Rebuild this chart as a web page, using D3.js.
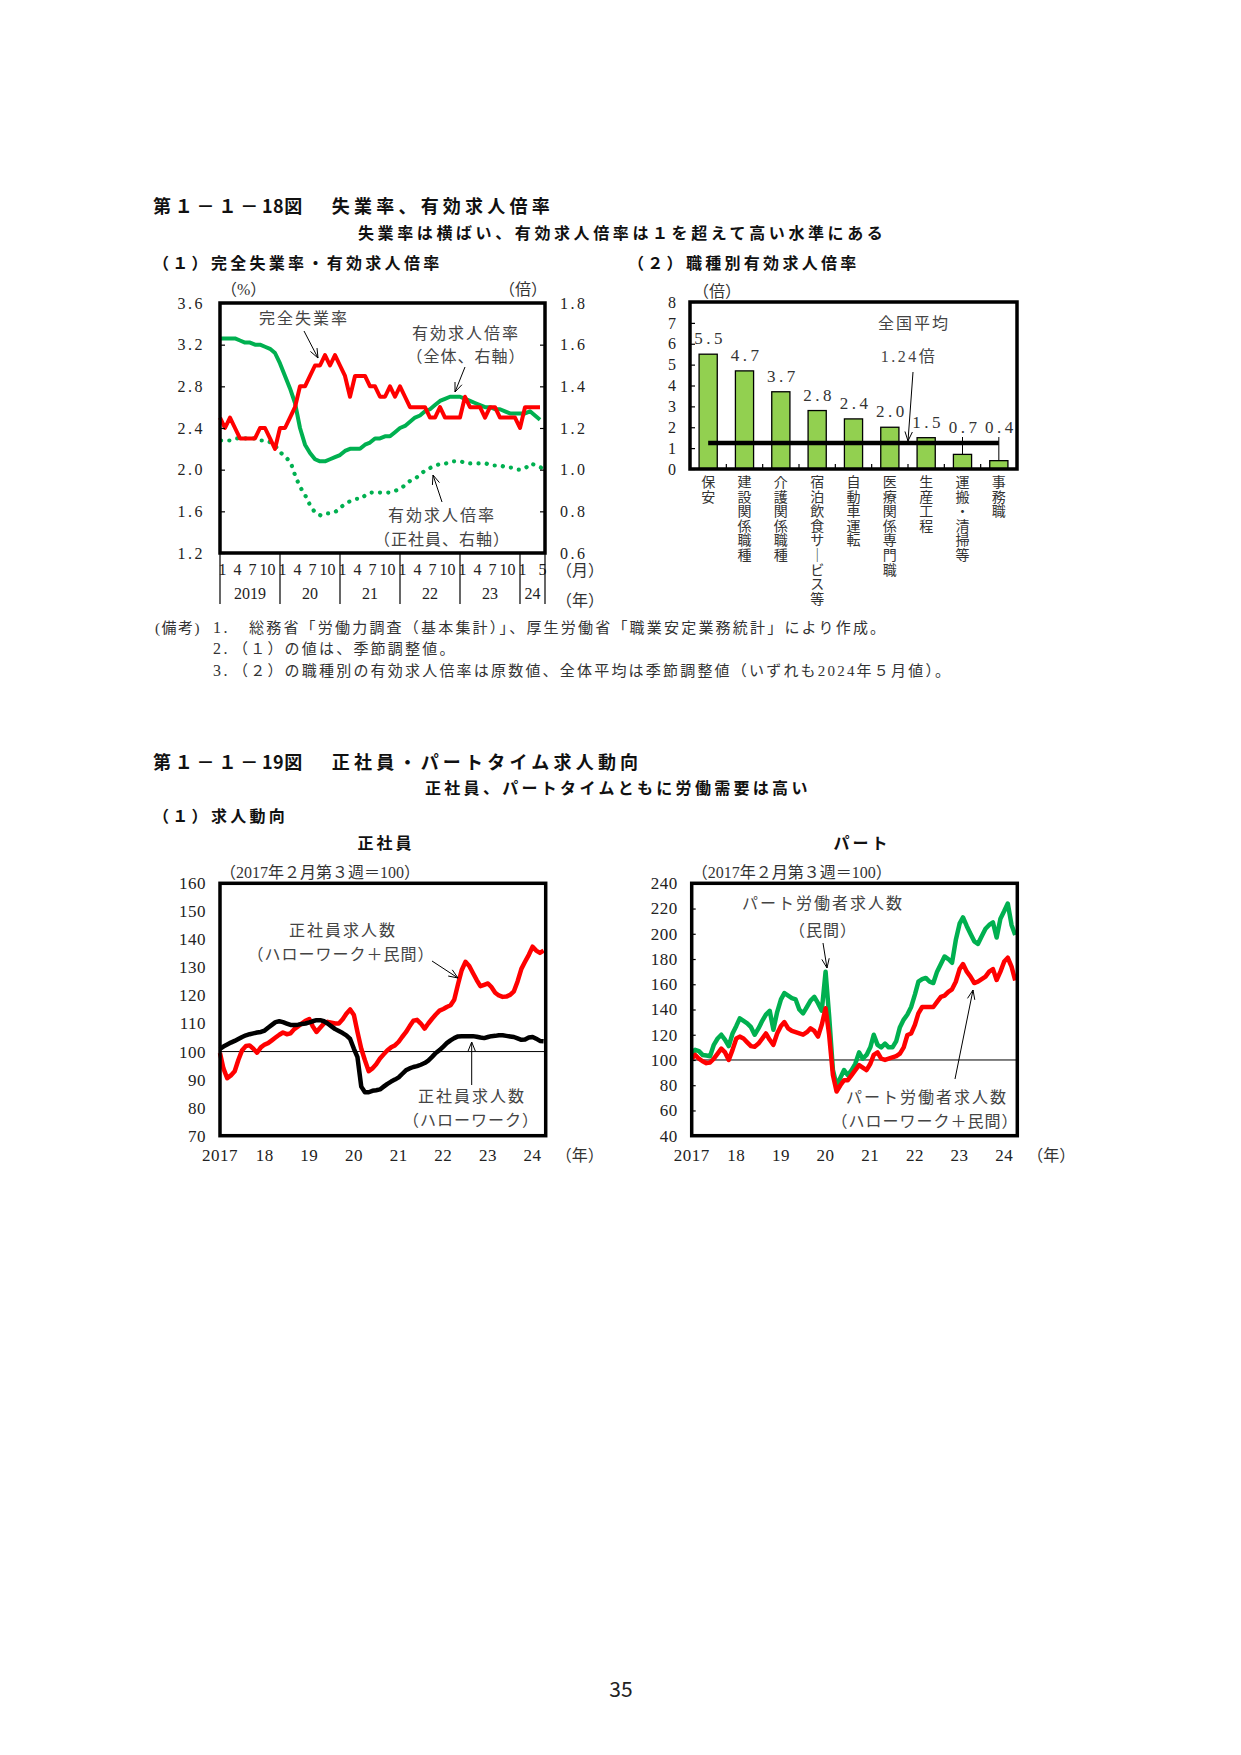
<!DOCTYPE html>
<html>
<head>
<meta charset="utf-8">
<script src="https://cdn.jsdelivr.net/npm/d3@7"></script>
<style>
  body { margin: 0; background: #fff; }
  svg text { font-family: "Liberation Serif", "Noto Sans CJK JP", serif; }
</style>
</head>
<body>
<script>
// (1) 完全失業率・有効求人倍率 : 2019年1月 - 2024年5月
const unemployment = [
  2.5,2.4,2.5,2.4,2.3,2.3,2.3,2.3,2.4,2.4,2.3,2.2,
  2.4,2.4,2.5,2.6,2.8,2.8,2.9,3.0,3.0,3.1,3.0,3.1,
  3.0,2.9,2.7,2.9,2.9,2.9,2.8,2.8,2.7,2.7,2.8,2.7,
  2.8,2.7,2.6,2.6,2.6,2.6,2.5,2.5,2.6,2.5,2.5,2.5,
  2.5,2.7,2.6,2.6,2.6,2.5,2.6,2.6,2.5,2.5,2.5,2.5,
  2.4,2.6,2.6,2.6,2.6];
const ratioAll = [
  1.63,1.63,1.63,1.63,1.62,1.61,1.61,1.60,1.60,1.59,1.58,1.56,
  1.51,1.45,1.39,1.32,1.20,1.12,1.08,1.05,1.04,1.04,1.05,1.06,
  1.07,1.09,1.10,1.10,1.10,1.12,1.13,1.15,1.15,1.16,1.16,1.18,
  1.20,1.21,1.23,1.25,1.26,1.28,1.29,1.31,1.33,1.34,1.35,1.35,
  1.35,1.34,1.33,1.32,1.31,1.30,1.30,1.29,1.29,1.28,1.27,1.27,
  1.27,1.27,1.28,1.26,1.24];
const ratioRegular = [
  1.14,1.14,1.14,1.15,1.15,1.15,1.15,1.15,1.14,1.14,1.13,1.11,
  1.08,1.06,1.03,0.96,0.91,0.87,0.82,0.79,0.78,0.79,0.79,0.80,
  0.82,0.84,0.85,0.86,0.86,0.88,0.89,0.89,0.89,0.89,0.89,0.90,
  0.91,0.93,0.95,0.96,0.98,1.00,1.01,1.02,1.03,1.03,1.04,1.04,
  1.04,1.03,1.03,1.03,1.03,1.03,1.02,1.02,1.02,1.01,1.01,1.00,
  1.00,1.01,1.03,1.02,1.01];
const leftTicks = [1.2,1.6,2.0,2.4,2.8,3.2,3.6];
const rightTicks = [0.6,0.8,1.0,1.2,1.4,1.6,1.8];
const yearLabels1 = ["2019","20","21","22","23","24"];
const monthTicks = [[1,4,7,10],[1,4,7,10],[1,4,7,10],[1,4,7,10],[1,4,7,10],[1,5]];

// (2) 職種別有効求人倍率（2024年5月）
const jobCategories = ["保安","建設関係職種","介護関係職種","宿泊飲食サービス等","自動車運転",
  "医療関係専門職","生産工程","運搬・清掃等","事務職"];
const jobRatios = [5.5,4.7,3.7,2.8,2.4,2.0,1.5,0.7,0.4];
const nationalAverage = 1.24;

// 第1-1-19図 : 2017年2月 - 2024年5月（月次で読取り）
const regularTotal = [
  99.5,94,90.5,91.5,93,97,100.5,102,102.2,101,99.6,101.5,
  102.5,103,104,105,106,106.8,106.2,106.5,108,109,110,111,
  111.6,109,107,108.5,110,110.6,110.3,110,110,111.5,113.5,115,
  113,107,101,96.9,93,94,95.5,97.5,99,100.5,101.5,102.2,
  103.5,105.2,106.9,109,111,111.3,110,108.2,110,111.7,113.2,114.6,
  115.2,115.9,116.5,118.5,124,129,132,130.5,128,125.5,123.3,123.8,
  124.3,123,121,120,119.5,119.6,120.2,121.5,125,129.5,132,134.5,
  137.4,136,135.2,136];
const regularHW = [
  101,101.8,102.5,103.2,103.8,104.5,105.2,105.8,106.2,106.5,106.8,107,
  107.5,108.5,109.5,110.5,110.8,110.5,110,109.5,109.5,109.6,109.8,110,
  110.4,110.8,111.2,111.2,110.8,110,109,108,107.3,106.6,105.8,104.5,
  101,98,87.5,85.5,85.5,86,86.2,86.5,87.5,88.5,89.3,90,
  90.8,92,93.3,94,94.5,94.8,95.3,95.9,96.8,98.1,99.5,100.5,
  101.8,103,104,104.8,105.4,105.5,105.5,105.5,105.5,105.3,105,104.8,
  105.2,105.5,105.6,105.8,105.8,105.6,105.4,105.2,104.7,104.2,104.3,105,
  105.2,104.6,103.8,103.7];
const partPrivate = [
  105,108,107,104,103.5,103,112,117,120,116,111,121,
  127,133,131,129,126,120,125,131,136,139,124,138,
  148,153,151,149,148,140,137,142,147,150,145,139,
  170,135,92,80,86,92,88,92,97,106,101,104,
  110,120,112,110,113,110,110,115,126,132,136,142,
  152,162,164,165,162,161,170,176,182,180,177,195,
  208,213,206,200,194,192,198,204,207,209,197,212,
  218,224,207,199];
const partTotal = [
  101,104,101,99,97.5,98,101,105,109,106,100,108,
  117,118.5,117,114,111,110.5,113,117,121,116,112,121,
  127,130,125,123,122,121,120,122,125,123,118.5,128,
  141,120,88,75,80,84,84,88,92,96,94,92,
  97,104,106,101,100,101,102,103,105,110,119.8,121,
  128,137,142,142,142,142,146,150,151,154,156,162,
  172,176,170,166,161,162,164,166,170,172,163.4,170,
  178,181,174,163];
const yearLabels2 = ["2017","18","19","20","21","22","23","24"];
const regularTicks = d3.range(70, 161, 10);
const partTicks = d3.range(40, 241, 20);

const RED = "#ff0000", GREEN = "#00b050", BAR = "#92d050";

const svg = d3.select("body").append("svg")
  .attr("width", 1241).attr("height", 1755);
svg.append("rect").attr("width", 1241).attr("height", 1755).attr("fill", "#fff");

function txt(g, x, y, s, opt) {
  opt = opt || {};
  return g.append("text")
    .attr("x", x).attr("y", y)
    .attr("text-anchor", opt.anchor || "start")
    .attr("font-size", opt.size || 16)
    .attr("letter-spacing", opt.ls || 0)
    .attr("font-weight", opt.weight || "normal")
    .style("font-family", opt.gothic ? '"Noto Sans CJK JP", sans-serif' : null)
    .attr("fill", opt.fill || "#222")
    .text(s);
}

// figure title: "第１－１－NN図　…" with the two digits kept tight
function figTitle(g, y, num, rest) {
  const t = g.append("text").attr("x", 153).attr("y", y)
    .attr("font-size", 18).attr("font-weight", "bold").attr("fill", "#111")
    .style("font-family", '"Noto Sans CJK JP", sans-serif');
  t.append("tspan").attr("letter-spacing", 3.8).text("第１－１－");
  t.append("tspan").attr("letter-spacing", 0.5).text(num);
  t.append("tspan").attr("letter-spacing", 3.8).text("図　");
  t.append("tspan").attr("dx", 4).attr("letter-spacing", 4.2).text(rest);
}

function arrow(g, x0, y0, x1, y1) {
  const a = Math.atan2(y1 - y0, x1 - x0), L = 10, w = 0.38;
  const p = d3.path();
  p.moveTo(x0, y0); p.lineTo(x1, y1);
  p.moveTo(x1 - L * Math.cos(a - w), y1 - L * Math.sin(a - w));
  p.lineTo(x1, y1);
  p.lineTo(x1 - L * Math.cos(a + w), y1 - L * Math.sin(a + w));
  g.append("path").attr("d", p.toString()).attr("fill", "none")
    .attr("stroke", "#000").attr("stroke-width", 1);
}

function styleAxis(g, size, ls) {
  g.select(".domain").remove();
  g.selectAll(".tick line").attr("stroke", "#000").attr("stroke-width", 1.2);
  g.selectAll(".tick text")
    .attr("font-size", size).attr("letter-spacing", ls || 0)
    .attr("fill", "#222")
    .style("font-family", '"Liberation Serif", serif');
  g.attr("font-family", null).attr("font-size", null);
}

// ---------- titles ----------
const head = svg.append("g");
figTitle(head, 213, "18", "失業率、有効求人倍率");
txt(head, 358, 239, "失業率は横ばい、有効求人倍率は１を超えて高い水準にある", {size: 16, ls: 3.6, weight: "bold", gothic: true, fill: "#111"});
txt(head, 153, 269, "（１）完全失業率・有効求人倍率", {size: 16, ls: 3.3, weight: "bold", gothic: true, fill: "#111"});
txt(head, 628, 269, "（２）職種別有効求人倍率", {size: 16, ls: 3.3, weight: "bold", gothic: true, fill: "#111"});

// ---------- (1) line chart ----------
const c1 = svg.append("g");
const x1 = d3.scaleLinear().domain([0, unemployment.length]).range([220, 545]);
const yL = d3.scaleLinear().domain([1.2, 3.6]).range([553, 303]);
const yR = d3.scaleLinear().domain([0.6, 1.8]).range([553, 303]);

c1.append("path").datum(ratioRegular)
  .attr("d", d3.line().x((d, i) => x1(i) + 1).y(d => yR(d)))
  .attr("fill", "none").attr("stroke", GREEN).attr("stroke-width", 4.2)
  .attr("stroke-linecap", "round").attr("stroke-dasharray", "0.1 8.2");
c1.append("path").datum(ratioAll)
  .attr("d", d3.line().x((d, i) => x1(i)).y(d => yR(d)))
  .attr("fill", "none").attr("stroke", GREEN).attr("stroke-width", 4)
  .attr("stroke-linejoin", "round");
c1.append("path").datum(unemployment)
  .attr("d", d3.line().x((d, i) => x1(i)).y(d => yL(d)))
  .attr("fill", "none").attr("stroke", RED).attr("stroke-width", 4)
  .attr("stroke-linejoin", "round");

c1.append("rect").attr("x", 220).attr("y", 303).attr("width", 325).attr("height", 250)
  .attr("fill", "none").attr("stroke", "#000").attr("stroke-width", 3.5);

const axL = c1.append("g").attr("transform", "translate(220,0)")
  .call(d3.axisLeft(yL).tickValues(leftTicks).tickSize(-5).tickPadding(15).tickFormat(d3.format(".1f")));
styleAxis(axL, 16, 2.5);
const axR = c1.append("g").attr("transform", "translate(545,0)")
  .call(d3.axisRight(yR).tickValues(rightTicks).tickSize(-5).tickPadding(15).tickFormat(d3.format(".1f")));
styleAxis(axR, 16, 2.5);

txt(c1, 221, 295, "（%）", {size: 16, fill: "#333"});
txt(c1, 547, 295, "（倍）", {size: 16, anchor: "end", fill: "#333"});

// month / year axis
const monthPos = [];
monthTicks.forEach((ms, k) => ms.forEach(m => monthPos.push({i: k * 12 + m - 1, label: String(m)})));
c1.selectAll("text.month").data(monthPos).join("text").attr("class", "month")
  .attr("x", d => x1(d.i + 0.5)).attr("y", 575).attr("text-anchor", "middle")
  .attr("font-size", 16).attr("fill", "#222").text(d => d.label);
const yearSeg = yearLabels1.map((s, k) => ({label: s, a: k * 12, b: Math.min(k * 12 + 12, unemployment.length)}));
c1.selectAll("text.year").data(yearSeg).join("text").attr("class", "year")
  .attr("x", d => x1((d.a + d.b) / 2)).attr("y", 599).attr("text-anchor", "middle")
  .attr("font-size", 16).attr("fill", "#222").text(d => d.label);
const seps = yearSeg.map(d => d.a).concat([unemployment.length]);
c1.selectAll("line.sep").data(seps).join("line").attr("class", "sep")
  .attr("x1", d => x1(d)).attr("x2", d => x1(d)).attr("y1", 553).attr("y2", 604)
  .attr("stroke", "#000").attr("stroke-width", 1.2);
txt(c1, 556, 576, "（月）", {size: 16, fill: "#333"});
txt(c1, 556, 606, "（年）", {size: 16, fill: "#333"});

// annotations
txt(c1, 304, 324, "完全失業率", {size: 16, ls: 2, anchor: "middle", fill: "#444"});
arrow(c1, 304, 331, 318, 358);
txt(c1, 466, 339, "有効求人倍率", {size: 16, ls: 2, anchor: "middle", fill: "#444"});
txt(c1, 466, 362, "（全体、右軸）", {size: 16, ls: 1, anchor: "middle", fill: "#444"});
arrow(c1, 465, 367, 455, 392);
txt(c1, 442, 521, "有効求人倍率", {size: 16, ls: 2, anchor: "middle", fill: "#444"});
txt(c1, 442, 545, "（正社員、右軸）", {size: 16, ls: 1, anchor: "middle", fill: "#444"});
arrow(c1, 442, 502, 433, 475);

// ---------- (2) bar chart ----------
const c2 = svg.append("g");
const xb = d3.scaleBand().domain(jobCategories).range([690, 1017]).paddingInner(0.5).paddingOuter(0.25);
const yb = d3.scaleLinear().domain([0, 8]).range([469, 302]);

c2.selectAll("rect.bar").data(jobCategories).join("rect").attr("class", "bar")
  .attr("x", d => xb(d)).attr("width", xb.bandwidth())
  .attr("y", (d, i) => yb(jobRatios[i])).attr("height", (d, i) => yb(0) - yb(jobRatios[i]))
  .attr("fill", BAR).attr("stroke", "#000").attr("stroke-width", 1.3);

const bx = d => xb(d) + xb.bandwidth() / 2;
c2.append("line")
  .attr("x1", bx(jobCategories[0])).attr("x2", bx(jobCategories[jobCategories.length - 1]))
  .attr("y1", yb(nationalAverage)).attr("y2", yb(nationalAverage))
  .attr("stroke", "#000").attr("stroke-width", 4.5);

c2.append("rect").attr("x", 690).attr("y", 302).attr("width", 327).attr("height", 167)
  .attr("fill", "none").attr("stroke", "#000").attr("stroke-width", 3.5);

const axB = c2.append("g").attr("transform", "translate(690,0)")
  .call(d3.axisLeft(yb).ticks(8).tickSize(-5).tickPadding(14));
styleAxis(axB, 16, 0);
const gaps = jobCategories.slice(1).map(d => xb(d) - xb.step() * xb.paddingInner() / 2);
c2.selectAll("line.gap").data(gaps).join("line").attr("class", "gap")
  .attr("x1", d => d).attr("x2", d => d).attr("y1", 469).attr("y2", 464)
  .attr("stroke", "#000").attr("stroke-width", 1.2);

const labelY = v => Math.min(yb(v) - 10, 433);
c2.selectAll("text.val").data(jobRatios).join("text").attr("class", "val")
  .attr("x", (d, i) => bx(jobCategories[i]) + 2).attr("y", d => labelY(d))
  .attr("text-anchor", "middle").attr("font-size", 17).attr("letter-spacing", 3.5)
  .attr("fill", "#333").text(d => d.toFixed(1));
c2.selectAll("line.lead").data(jobRatios.map((v, i) => ({v, c: jobCategories[i]})).filter(d => yb(d.v) - 10 > 433))
  .join("line").attr("class", "lead")
  .attr("x1", d => bx(d.c)).attr("x2", d => bx(d.c))
  .attr("y1", 437).attr("y2", d => yb(d.v))
  .attr("stroke", "#000").attr("stroke-width", 1);

txt(c2, 693, 297, "（倍）", {size: 16, fill: "#333"});
txt(c2, 914, 329, "全国平均", {size: 16, ls: 2, anchor: "middle", fill: "#444"});
txt(c2, 909, 362, "1.24倍", {size: 16, ls: 2.5, anchor: "middle", fill: "#444"});
arrow(c2, 913, 372, 908, 441);

// vertical category labels
jobCategories.forEach(cat => {
  const chars = Array.from(cat).map(ch => ch === "ー" ? "｜" : ch);
  c2.append("g").selectAll("text").data(chars).join("text")
    .attr("x", bx(cat)).attr("y", (d, j) => 487 + j * 14.6)
    .attr("text-anchor", "middle").attr("font-size", 14).attr("fill", "#333")
    .text(d => d);
});

// ---------- notes ----------
const notes = svg.append("g");
const noteOpt = {size: 15, ls: 2.2, fill: "#333"};
const numOpt = {size: 16, ls: 2.5, fill: "#333"};
txt(notes, 155, 633, "(備考)", {size: 15, ls: 1.5, fill: "#333"});
txt(notes, 213, 633, "1.", numOpt);
txt(notes, 249, 633, "総務省「労働力調査（基本集計）」、厚生労働省「職業安定業務統計」により作成。", noteOpt);
txt(notes, 213, 654, "2.", numOpt);
txt(notes, 233, 654, "（１）の値は、季節調整値。", noteOpt);
txt(notes, 213, 676, "3.", numOpt);
txt(notes, 233, 676, "（２）の職種別の有効求人倍率は原数値、全体平均は季節調整値（いずれも2024年５月値）。", noteOpt);

// ---------- 第1-1-19図 ----------
const head2 = svg.append("g");
figTitle(head2, 769, "19", "正社員・パートタイム求人動向");
txt(head2, 425, 794, "正社員、パートタイムともに労働需要は高い", {size: 16, ls: 3.3, weight: "bold", gothic: true, fill: "#111"});
txt(head2, 153, 822, "（１）求人動向", {size: 16, ls: 3.3, weight: "bold", gothic: true, fill: "#111"});
txt(head2, 386, 849, "正社員", {size: 16, ls: 3, anchor: "middle", weight: "bold", gothic: true, fill: "#111"});
txt(head2, 862, 849, "パート", {size: 16, ls: 3, anchor: "middle", weight: "bold", gothic: true, fill: "#111"});

const monthDate = i => new Date(2017, 1 + i, 15);

function indexChart(left, right, domainY, ticks, inwardTicks, series) {
  const g = svg.append("g");
  const x = d3.scaleTime().domain([new Date(2017, 1, 15), new Date(2024, 5, 1)]).range([left, right]);
  const y = d3.scaleLinear().domain(domainY).range([1135.7, 883.3]);
  g.append("line").attr("x1", left).attr("x2", right).attr("y1", y(100)).attr("y2", y(100))
    .attr("stroke", "#000").attr("stroke-width", 1);
  series.forEach(s => {
    g.append("path").datum(s.values)
      .attr("d", d3.line().x((d, i) => x(monthDate(i))).y(d => y(d)))
      .attr("fill", "none").attr("stroke", s.color).attr("stroke-width", 4.5)
      .attr("stroke-linejoin", "round");
  });
  g.append("rect").attr("x", left).attr("y", 883.3).attr("width", right - left).attr("height", 252.4)
    .attr("fill", "none").attr("stroke", "#000").attr("stroke-width", 3.5);
  const ax = g.append("g").attr("transform", `translate(${left},0)`)
    .call(d3.axisLeft(y).tickValues(ticks).tickSize(inwardTicks ? -4 : 0).tickPadding(14));
  styleAxis(ax, 17, 0.5);
  g.selectAll("text.yr").data(yearLabels2).join("text").attr("class", "yr")
    .attr("x", (d, k) => x(new Date(2017 + k, 1, 15))).attr("y", 1161)
    .attr("text-anchor", "middle").attr("font-size", 17).attr("letter-spacing", 0.5)
    .attr("fill", "#222").text(d => d);
  txt(g, right + 10, 1161, "（年）", {size: 16, fill: "#333"});
  txt(g, left, 878, "（2017年２月第３週＝100）", {size: 16, fill: "#333"});
  return g;
}

const c3 = indexChart(220, 545.7, [70, 160], regularTicks, false, [
  {values: regularTotal, color: RED},
  {values: regularHW, color: "#000"}
]);
txt(c3, 343, 936, "正社員求人数", {size: 16, ls: 2, anchor: "middle", fill: "#444"});
txt(c3, 341, 960, "（ハローワーク＋民間）", {size: 16, ls: 1, anchor: "middle", fill: "#444"});
arrow(c3, 432, 961, 458, 978);
txt(c3, 472, 1102, "正社員求人数", {size: 16, ls: 2, anchor: "middle", fill: "#444"});
txt(c3, 471, 1126, "（ハローワーク）", {size: 16, ls: 1, anchor: "middle", fill: "#444"});
arrow(c3, 471.7, 1085, 471.7, 1042);

const c4 = indexChart(691.7, 1017.3, [40, 240], partTicks, true, [
  {values: partPrivate, color: GREEN},
  {values: partTotal, color: RED}
]);
txt(c4, 823, 909, "パート労働者求人数", {size: 16, ls: 2, anchor: "middle", fill: "#444"});
txt(c4, 823, 936, "（民間）", {size: 16, ls: 1, anchor: "middle", fill: "#444"});
arrow(c4, 823, 943, 827, 968);
txt(c4, 927, 1103, "パート労働者求人数", {size: 16, ls: 2, anchor: "middle", fill: "#444"});
txt(c4, 925, 1127, "（ハローワーク＋民間）", {size: 16, ls: 1, anchor: "middle", fill: "#444"});
arrow(c4, 955, 1079, 973, 990);

// page number
txt(svg, 621, 1697, "35", {size: 21, anchor: "middle", gothic: true, fill: "#222"});
</script>
</body>
</html>
